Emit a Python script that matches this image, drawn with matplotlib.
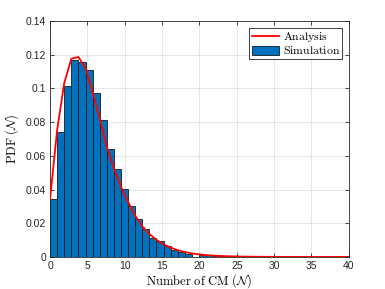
import matplotlib
matplotlib.use('Agg')
import matplotlib.pyplot as plt
import numpy as np

plt.rcParams['font.family'] = ['Liberation Sans', 'DejaVu Sans']
plt.rcParams['mathtext.fontset'] = 'cm'

# histogram bin width (in units of N)
bin_width = 0.95

# simulated pdf, one value per bin
sim_pdf = [0.0343, 0.0744, 0.1016, 0.1171, 0.1157, 0.1107, 0.0972, 0.0810,
           0.0641, 0.0522, 0.0405, 0.0303, 0.0223, 0.0167, 0.0111, 0.0092,
           0.0064, 0.0041, 0.0032, 0.0020, 0.0, 0.0010, 0.0009, 0.0006,
           0.0004, 0.0003, 0.0002, 0.0001, 0.0001, 0.00005, 0.00003, 0.00002,
           0.00001, 0.0, 0.0, 0.0, 0.0, 0.0, 0.0, 0.0, 0.0, 0.0]

# analytical pdf at the bin positions
ana_pdf = [0.0343, 0.0754, 0.1032, 0.1177, 0.1187, 0.1121, 0.0976, 0.0824,
           0.0655, 0.0526, 0.0417, 0.0327, 0.0245, 0.0182, 0.0136, 0.0101,
           0.0075, 0.0055, 0.0040, 0.0029, 0.0021, 0.0015, 0.0011, 0.0008,
           0.0006, 0.0004, 0.0003, 0.0002, 0.00015, 0.0001, 0.00007, 0.00005,
           0.00003, 0.00002, 0.00001, 0.00001, 0.0, 0.0, 0.0, 0.0, 0.0, 0.0, 0.0]

xticks = [0, 5, 10, 15, 20, 25, 30, 35, 40]
yticks = [0, 0.02, 0.04, 0.06, 0.08, 0.1, 0.12, 0.14]
ytick_labels = ['0', '0.02', '0.04', '0.06', '0.08', '0.1', '0.12', '0.14']

fig = plt.figure(figsize=(3.85, 2.89), dpi=100)
ax = fig.add_axes([0.130, 0.111, 0.776, 0.816])

ana_x = np.arange(len(ana_pdf)) * bin_width
ax.plot(ana_x, ana_pdf, color='red', linewidth=1.3, label='Analysis', zorder=3)
edges = np.arange(len(sim_pdf)) * bin_width
ax.bar(edges, sim_pdf, width=bin_width, align='edge', color='#0072BD',
       edgecolor='#1a1a1a', linewidth=0.6, label='Simulation', zorder=2)

ax.set_xlim(0, 40)
ax.set_ylim(0, 0.14)
ax.set_xticks(xticks)
ax.set_yticks(yticks)
ax.set_yticklabels(ytick_labels)
ax.tick_params(direction='in', top=True, right=True, labelsize=7.5,
               length=3, width=0.6, colors='#262626', pad=3)
for s in ax.spines.values():
    s.set_color('#262626')
    s.set_linewidth(0.6)
ax.grid(True, color='#e0e0e0', linewidth=0.6, zorder=0)
ax.set_axisbelow(True)

ax.set_xlabel(r'$\mathrm{Number\ of\ CM}\ (\mathcal{N})$', fontsize=9, labelpad=1)
ax.set_ylabel(r'$\mathrm{PDF}\ (\mathcal{N})$', fontsize=9, labelpad=3)

leg = ax.legend(loc='upper right', prop={'size': 8.5}, fancybox=False,
                edgecolor='#262626', framealpha=1, borderpad=0.2,
                labelspacing=0.1, handlelength=2.3, handleheight=0.8,
                handletextpad=0.3, borderaxespad=0.55)
leg.get_frame().set_linewidth(0.6)
for t in leg.get_texts():
    t.set_text(r'$\mathrm{' + t.get_text() + '}$')

fig.savefig('out.png', dpi=100)
